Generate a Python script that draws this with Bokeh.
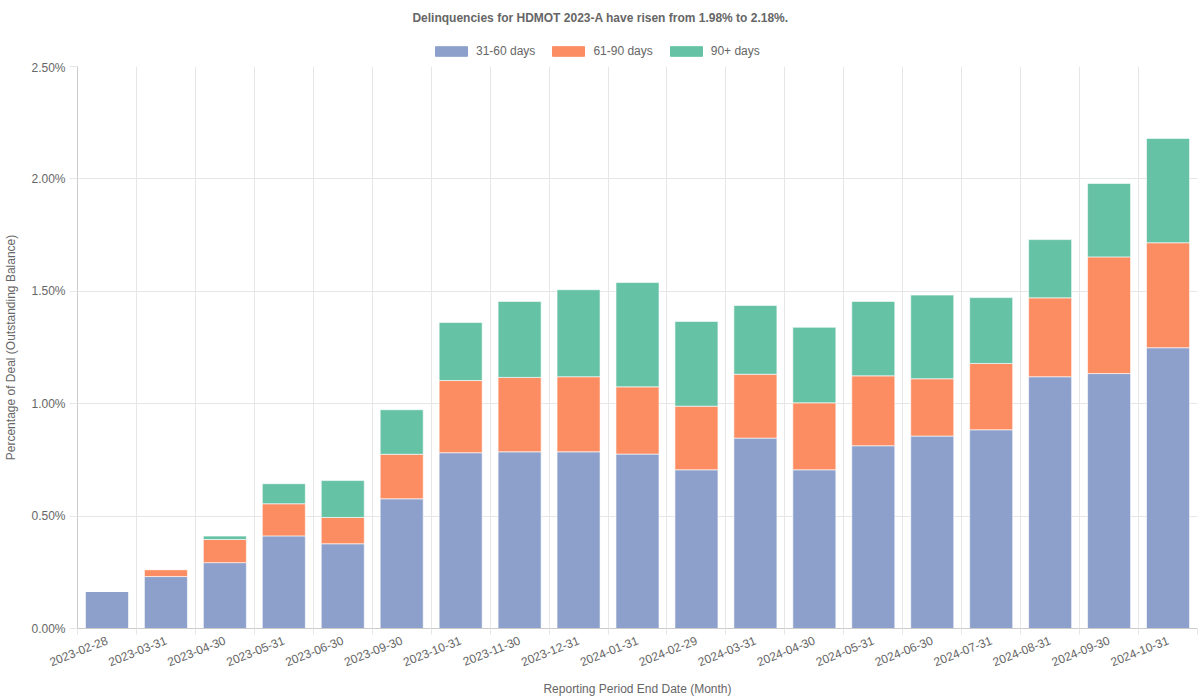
from bokeh.plotting import figure
from bokeh.models import (ColumnDataSource, FixedTicker, PrintfTickFormatter, Legend,
                          LegendItem, Range1d)
from bokeh.core.properties import value
from bokeh.layouts import column
from bokeh.embed import file_html
from bokeh.resources import INLINE

dates = ["2023-02-28", "2023-03-31", "2023-04-30", "2023-05-31", "2023-06-30",
         "2023-09-30", "2023-10-31", "2023-11-30", "2023-12-31", "2024-01-31",
         "2024-02-29", "2024-03-31", "2024-04-30", "2024-05-31", "2024-06-30",
         "2024-07-31", "2024-08-31", "2024-09-30", "2024-10-31"]
d31_60 = [0.165, 0.231, 0.293, 0.412, 0.377, 0.577, 0.782, 0.786, 0.786, 0.776,
          0.706, 0.847, 0.706, 0.813, 0.856, 0.884, 1.120, 1.134, 1.249]
d61_90 = [0.0, 0.031, 0.103, 0.143, 0.117, 0.198, 0.321, 0.331, 0.334, 0.299,
          0.283, 0.284, 0.298, 0.311, 0.255, 0.295, 0.351, 0.519, 0.467]
d90p = [0.0, 0.0, 0.015, 0.089, 0.164, 0.198, 0.258, 0.338, 0.387, 0.464,
        0.377, 0.306, 0.336, 0.331, 0.372, 0.293, 0.259, 0.327, 0.464]
series_names = ["31-60 days", "61-90 days", "90+ days"]
colors = ["#8da0cb", "#fc8d62", "#66c2a5"]
y_ticks = [0.0, 0.5, 1.0, 1.5, 2.0, 2.5]
title_text = "Delinquencies for HDMOT 2023-A have risen from 1.98% to 2.18%."

n = len(dates)
xs = [i + 0.5 for i in range(n)]
source = ColumnDataSource(dict(x=xs, a=d31_60, b=d61_90, c=d90p))

TXT = "#666666"
GRID = "#e6e6e6"
FONT = "Liberation Sans"

# ---- header: title + legend (frame aligned with main frame: x 77..1197) ----
HEAD_H = 60
head = figure(width=1200, height=HEAD_H, output_backend="svg", toolbar_location=None,
              x_range=Range1d(77, 1197), y_range=Range1d(0, HEAD_H),
              min_border=0, min_border_left=77, min_border_right=3,
              x_axis_type=None, y_axis_type=None)
head.outline_line_color = None
head.xgrid.visible = False
head.ygrid.visible = False
head.text(x=[600], y=[HEAD_H - 17], text=[title_text], text_align="center",
          text_baseline="middle", text_font=value(FONT), text_font_size="12px",
          text_font_style="bold", text_color=TXT)
# off-screen zero-height bars, only used to draw the legend swatches
swatch_src = ColumnDataSource(dict(x=[-500.0], a=[0.0], b=[0.0], c=[0.0]))
head_r = head.vbar_stack(["a", "b", "c"], x="x", width=1, color=colors, source=swatch_src)
legend = Legend(items=[LegendItem(label=nm, renderers=[r]) for nm, r in zip(series_names, head_r)],
                orientation="horizontal", location=(354, 2),
                glyph_width=40, glyph_height=12, label_text_font_size="12px",
                label_text_color=TXT, label_text_font=FONT, spacing=13,
                border_line_color=None, background_fill_alpha=0,
                padding=4, margin=0, label_standoff=5)
head.add_layout(legend, "center")

# ---- main chart ----
p = figure(width=1200, height=700 - HEAD_H, output_backend="svg", toolbar_location=None,
           x_range=Range1d(0, n), y_range=Range1d(0, 2.5),
           min_border_left=77, min_border_right=3, min_border_top=6, min_border_bottom=72)
p.outline_line_color = None
p.background_fill_color = "white"

p.vbar_stack(["a", "b", "c"], x="x", width=0.73, color=colors, source=source,
             line_color="white", line_alpha=0.6, line_width=1)

# x axis
p.xaxis.ticker = FixedTicker(ticks=xs, minor_ticks=list(range(n + 1)))
p.xaxis.major_label_overrides = {x: d for x, d in zip(xs, dates)}
p.xaxis.major_label_orientation = 0.38
p.xaxis.major_tick_line_color = None
p.xaxis.minor_tick_line_color = GRID
p.xaxis.minor_tick_out = 6
p.xaxis.minor_tick_in = 0
p.xaxis.axis_line_color = "#cccccc"
p.xaxis.major_label_text_color = TXT
p.xaxis.major_label_text_font = FONT
p.xaxis.major_label_text_font_size = "12px"
p.xaxis.axis_label = "Reporting Period End Date (Month)"
p.xaxis.axis_label_text_font_style = "normal"
p.xaxis.axis_label_text_color = TXT
p.xaxis.axis_label_text_font = FONT
p.xaxis.axis_label_text_font_size = "12px"
p.xaxis.axis_label_standoff = 8
p.xgrid.ticker = FixedTicker(ticks=list(range(n + 1)))
p.xgrid.grid_line_color = GRID

# y axis
p.yaxis.ticker = FixedTicker(ticks=y_ticks)
p.yaxis.formatter = PrintfTickFormatter(format="%.2f%%")
p.yaxis.major_tick_line_color = GRID
p.yaxis.major_tick_out = 8
p.yaxis.major_tick_in = 0
p.yaxis.minor_tick_line_color = None
p.yaxis.axis_line_color = "#cccccc"
p.yaxis.major_label_text_color = TXT
p.yaxis.major_label_text_font = FONT
p.yaxis.major_label_text_font_size = "12px"
p.yaxis.major_label_standoff = 4
p.yaxis.axis_label = "Percentage of Deal (Outstanding Balance)"
p.yaxis.axis_label_text_font_style = "normal"
p.yaxis.axis_label_text_color = TXT
p.yaxis.axis_label_text_font = FONT
p.yaxis.axis_label_text_font_size = "12px"
p.yaxis.axis_label_standoff = 10
p.ygrid.grid_line_color = GRID

layout = column(head, p, spacing=0)
open("out.html", "w").write(file_html(layout, INLINE))
